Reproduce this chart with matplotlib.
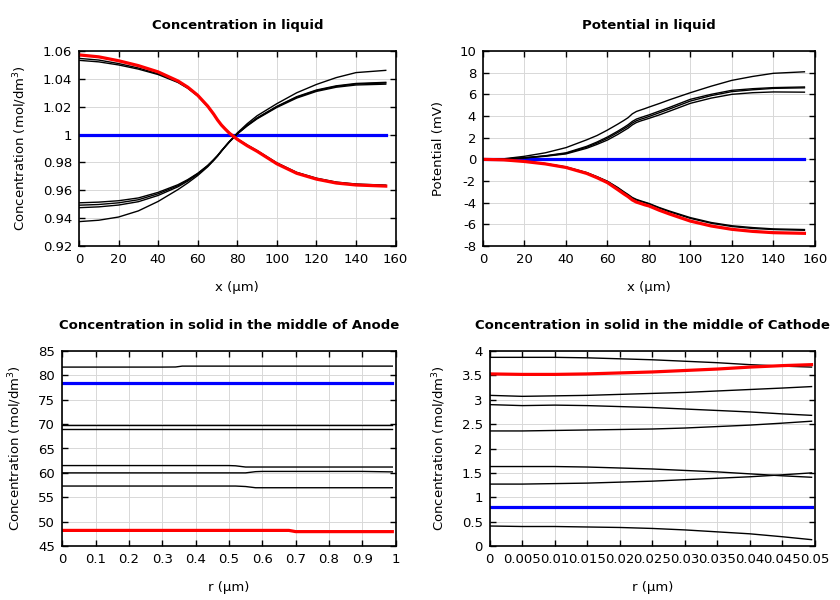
import matplotlib
matplotlib.use("Agg")
import matplotlib.pyplot as plt
from matplotlib.ticker import FuncFormatter

# ---- concentration / potential in liquid, along x (um)
x_liq = [0, 10, 20, 30, 40, 50, 55, 60, 65, 68, 70, 72, 74, 76, 78, 80, 85, 90,
         100, 110, 120, 130, 140, 155]
x_flat = [0, 155]

c_liq_init = [1.0, 1.0]
c_liq_final = [1.0572, 1.0558, 1.0530, 1.0495, 1.0450, 1.0385, 1.0340, 1.0282, 1.0205, 1.0148,
               1.0105, 1.0068, 1.0038, 1.0010, 0.9988, 0.9966, 0.9920, 0.9880,
               0.9790, 0.9722, 0.9680, 0.9652, 0.9638, 0.9630]
c_liq_mid = [
    [1.0547, 1.0535, 1.0510, 1.0478, 1.0437, 1.0378, 1.0335, 1.0279, 1.0203, 1.0147,
     1.0104, 1.0068, 1.0039, 1.0011, 0.9990, 0.9968, 0.9923, 0.9883,
     0.9794, 0.9726, 0.9684, 0.9656, 0.9642, 0.9634],
    [1.0533, 1.0522, 1.0500, 1.0470, 1.0431, 1.0374, 1.0332, 1.0277, 1.0202, 1.0146,
     1.0104, 1.0068, 1.0039, 1.0012, 0.9991, 0.9969, 0.9925, 0.9885,
     0.9797, 0.9729, 0.9687, 0.9659, 0.9645, 0.9637],
    [0.9510, 0.9515, 0.9525, 0.9545, 0.9585, 0.9640, 0.9677, 0.9722, 0.9778, 0.9820,
     0.9850, 0.9885, 0.9918, 0.9950, 0.9978, 1.0008, 1.0068, 1.0120,
     1.0203, 1.0272, 1.0320, 1.0350, 1.0367, 1.0375],
    [0.9493, 0.9498, 0.9510, 0.9532, 0.9575, 0.9633, 0.9672, 0.9719, 0.9776, 0.9818,
     0.9848, 0.9883, 0.9916, 0.9948, 0.9977, 1.0006, 1.0065, 1.0117,
     1.0200, 1.0268, 1.0316, 1.0346, 1.0363, 1.0370],
    [0.9475, 0.9481, 0.9494, 0.9518, 0.9563, 0.9625, 0.9666, 0.9715, 0.9773, 0.9816,
     0.9846, 0.9881, 0.9914, 0.9946, 0.9975, 1.0004, 1.0062, 1.0113,
     1.0195, 1.0262, 1.0310, 1.0340, 1.0356, 1.0362],
    [0.9375, 0.9385, 0.9408, 0.9452, 0.9520, 0.9605, 0.9653, 0.9706, 0.9768, 0.9813,
     0.9845, 0.9881, 0.9916, 0.9950, 0.9980, 1.0012, 1.0078, 1.0135,
     1.0222, 1.0300, 1.0360, 1.0409, 1.0445, 1.0461],
]

phi_init = [0.0, 0.0]
phi_final = [0, -0.05, -0.2, -0.42, -0.75, -1.3, -1.7, -2.15, -2.8, -3.2, -3.45, -3.75,
             -3.95, -4.07, -4.2, -4.3, -4.7, -5.05, -5.7, -6.15, -6.46, -6.65, -6.77, -6.83]
phi_mid = [
    [0, 0.05, 0.28, 0.6, 1.08, 1.8, 2.2, 2.7, 3.25, 3.6, 3.85, 4.2,
     4.42, 4.55, 4.68, 4.82, 5.15, 5.5, 6.15, 6.75, 7.29, 7.65, 7.94, 8.08],
    [0, 0.03, 0.15, 0.33, 0.6, 1.2, 1.6, 2.06, 2.6, 2.95, 3.2, 3.5,
     3.72, 3.85, 3.98, 4.1, 4.45, 4.8, 5.54, 6.0, 6.37, 6.52, 6.62, 6.68],
    [0, 0.03, 0.14, 0.31, 0.55, 1.12, 1.5, 1.94, 2.48, 2.82, 3.05, 3.35,
     3.56, 3.7, 3.82, 3.95, 4.3, 4.65, 5.38, 5.88, 6.25, 6.42, 6.55, 6.6],
    [0, 0.03, 0.12, 0.28, 0.5, 1.02, 1.38, 1.78, 2.3, 2.65, 2.88, 3.18,
     3.4, 3.54, 3.66, 3.78, 4.1, 4.45, 5.17, 5.65, 6.0, 6.15, 6.22, 6.2],
    [0, -0.05, -0.19, -0.4, -0.72, -1.25, -1.63, -2.05, -2.65, -3.05, -3.3, -3.58,
     -3.75, -3.88, -4.0, -4.12, -4.5, -4.85, -5.45, -5.9, -6.2, -6.38, -6.48, -6.55],
    [0, -0.05, -0.18, -0.39, -0.7, -1.22, -1.6, -2.02, -2.6, -3.0, -3.25, -3.52,
     -3.7, -3.83, -3.95, -4.07, -4.45, -4.78, -5.38, -5.83, -6.13, -6.3, -6.42, -6.48],
]

# ---- solid concentration, anode particle (r in um)
r_an = [0, 0.1, 0.2, 0.3, 0.34, 0.36, 0.4, 0.5, 0.52, 0.55, 0.58, 0.6, 0.68, 0.7, 0.8, 0.9, 0.99]
r_an_flat = [0, 0.99]
an_init = [78.5, 78.5]
an_final = [48.2, 48.2, 48.2, 48.2, 48.2, 48.2, 48.2, 48.2, 48.2, 48.2, 48.2, 48.2, 48.2,
            47.95, 47.95, 47.95, 47.95]
an_mid = [
    [81.7, 81.7, 81.7, 81.7, 81.72, 81.9, 81.9, 81.9, 81.9, 81.9, 81.9, 81.9, 81.9, 81.9, 81.9, 81.9, 81.9],
    [69.8, 69.8, 69.8, 69.8, 69.8, 69.8, 69.8, 69.8, 69.8, 69.8, 69.8, 69.8, 69.8, 69.8, 69.8, 69.8, 69.8],
    [68.9, 68.9, 68.9, 68.9, 68.9, 68.9, 68.9, 68.9, 68.9, 68.9, 68.9, 68.9, 68.9, 68.9, 68.9, 68.9, 68.9],
    [61.5, 61.5, 61.5, 61.5, 61.5, 61.5, 61.5, 61.5, 61.45, 61.2, 61.2, 61.2, 61.2, 61.2, 61.2, 61.2, 61.2],
    [60.0, 60.0, 60.0, 60.0, 60.0, 60.0, 60.0, 60.0, 60.0, 60.0, 60.25, 60.3, 60.3, 60.3, 60.3, 60.3, 60.2],
    [57.3, 57.3, 57.3, 57.3, 57.3, 57.3, 57.3, 57.3, 57.3, 57.2, 56.95, 56.95, 56.95, 56.95, 56.95, 56.95, 56.95],
]

# ---- solid concentration, cathode particle (r in um)
r_ca = [0, 0.005, 0.01, 0.015, 0.02, 0.025, 0.03, 0.035, 0.04, 0.045, 0.0495]
r_ca_flat = [0, 0.0495]
ca_init = [0.80, 0.80]
ca_final = [3.53, 3.52, 3.52, 3.53, 3.55, 3.57, 3.60, 3.63, 3.67, 3.70, 3.72]
ca_mid = [
    [3.87, 3.87, 3.87, 3.86, 3.84, 3.82, 3.79, 3.76, 3.72, 3.69, 3.67],
    [3.09, 3.07, 3.08, 3.09, 3.11, 3.13, 3.15, 3.18, 3.21, 3.24, 3.27],
    [2.90, 2.88, 2.89, 2.88, 2.86, 2.84, 2.81, 2.78, 2.75, 2.71, 2.68],
    [2.36, 2.36, 2.37, 2.38, 2.39, 2.40, 2.42, 2.45, 2.48, 2.52, 2.56],
    [1.63, 1.63, 1.63, 1.62, 1.60, 1.58, 1.55, 1.52, 1.48, 1.44, 1.41],
    [1.27, 1.27, 1.28, 1.29, 1.31, 1.33, 1.36, 1.39, 1.42, 1.46, 1.50],
    [0.41, 0.40, 0.40, 0.39, 0.38, 0.36, 0.33, 0.29, 0.25, 0.19, 0.13],
]

conc_label = 'Concentration (mol/dm$^3$)'
fmt_g = FuncFormatter(lambda v, p: '%g' % round(v, 6))

fig = plt.figure(figsize=(8.4, 6), dpi=100)


def panel(rect, title, xlabel, ylabel, xticks, yticks):
    ax = fig.add_axes(rect)
    ax.set_title(title, fontsize=9.5, fontweight='bold', pad=16)
    ax.set_xlabel(xlabel, fontsize=9.5, labelpad=11)
    ax.set_ylabel(ylabel, fontsize=9.5, labelpad=10)
    ax.set_xticks(xticks)
    ax.set_yticks(yticks)
    ax.set_xlim(xticks[0], xticks[-1])
    ax.set_ylim(yticks[0], yticks[-1])
    ax.xaxis.set_major_formatter(fmt_g)
    ax.yaxis.set_major_formatter(fmt_g)
    ax.tick_params(direction='in', top=True, right=True, length=4, width=1,
                   labelsize=9.5, pad=5)
    ax.grid(True, color='#d8d8d8', lw=0.7)
    ax.set_axisbelow(True)
    for s in ax.spines.values():
        s.set_linewidth(1.2)
    return ax


def draw(ax, xs, xi, init, mids, final):
    ax.plot(xi, init, color='#0000ff', lw=2.3)
    for m in mids:
        ax.plot(xs, m, color='black', lw=1.0)
    ax.plot(xs, final, color='#ff0000', lw=2.3)


ax1 = panel([0.094, 0.590, 0.377, 0.325], 'Concentration in liquid', 'x (µm)', conc_label,
            [0, 20, 40, 60, 80, 100, 120, 140, 160],
            [0.92, 0.94, 0.96, 0.98, 1.0, 1.02, 1.04, 1.06])
draw(ax1, x_liq, x_flat, c_liq_init, c_liq_mid, c_liq_final)

ax2 = panel([0.575, 0.590, 0.395, 0.325], 'Potential in liquid', 'x (µm)', 'Potential (mV)',
            [0, 20, 40, 60, 80, 100, 120, 140, 160],
            [-8, -6, -4, -2, 0, 2, 4, 6, 8, 10])
draw(ax2, x_liq, x_flat, phi_init, phi_mid, phi_final)

ax3 = panel([0.074, 0.090, 0.397, 0.325], 'Concentration in solid in the middle of Anode',
            'r (µm)', conc_label,
            [0, 0.1, 0.2, 0.3, 0.4, 0.5, 0.6, 0.7, 0.8, 0.9, 1.0],
            [45, 50, 55, 60, 65, 70, 75, 80, 85])
draw(ax3, r_an, r_an_flat, an_init, an_mid, an_final)

ax4 = panel([0.583, 0.090, 0.387, 0.325], 'Concentration in solid in the middle of Cathode',
            'r (µm)', conc_label,
            [0, 0.005, 0.01, 0.015, 0.02, 0.025, 0.03, 0.035, 0.04, 0.045, 0.05],
            [0, 0.5, 1, 1.5, 2, 2.5, 3, 3.5, 4])
draw(ax4, r_ca, r_ca_flat, ca_init, ca_mid, ca_final)

fig.savefig('out.png', dpi=100)
